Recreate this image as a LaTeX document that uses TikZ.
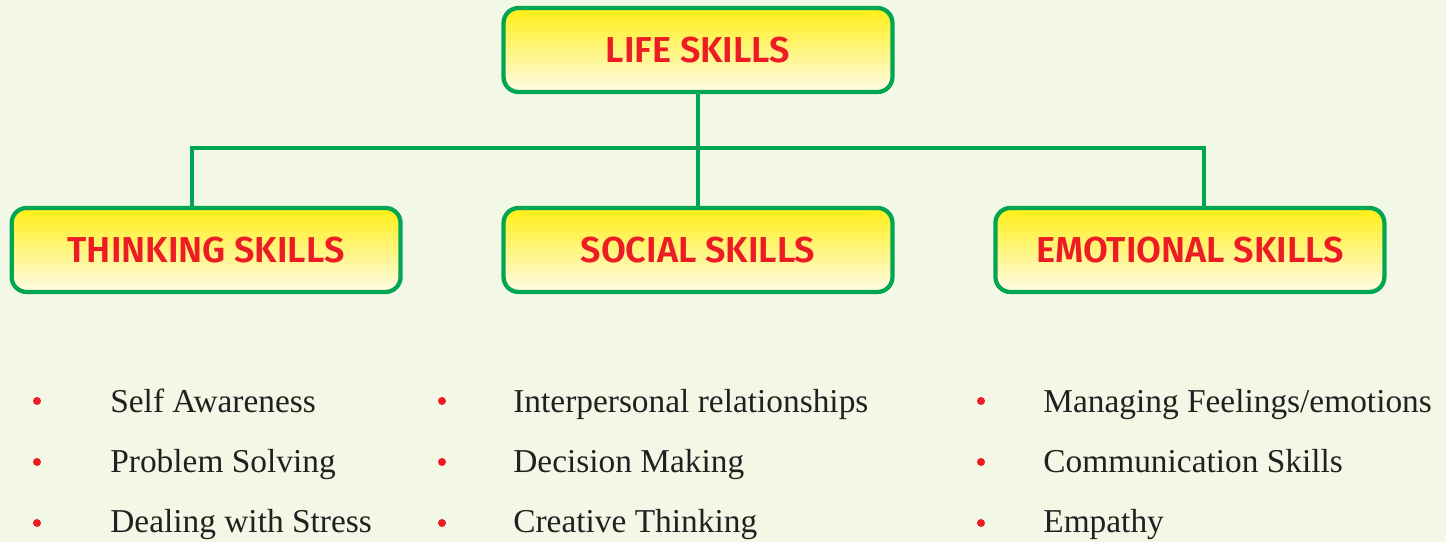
\documentclass[tikz,border=0pt]{standalone}
\usepackage{fontspec}
\setmainfont{Liberation Serif}
\newfontfamily\headfont{Fira Sans SemiBold}
\usetikzlibrary{trees}

\definecolor{linegreen}{RGB}{0,166,81}
\definecolor{headred}{RGB}{237,28,36}
\definecolor{boxyellow}{RGB}{255,238,20}
\definecolor{boxcream}{RGB}{255,252,234}
\definecolor{pagebg}{RGB}{243,247,230}
\definecolor{itemtext}{RGB}{35,31,32}

\begin{document}
\begin{tikzpicture}[x=0.02cm,y=-0.02cm,
    skillbox/.style={draw=linegreen,line width=0.085cm,rounded corners=0.3cm,
      top color=boxyellow,bottom color=boxcream,
      minimum width=7.78cm,minimum height=1.68cm,text=headred,
      font=\headfont\fontsize{20.5}{24}\selectfont},
    level distance=4cm,sibling distance=9.84cm,
    edge from parent/.style={draw=linegreen,line width=0.08cm},
    edge from parent path={(\tikzparentnode.south) -- ++(0,-1.08cm) -| (\tikzchildnode.north)},
    bulletdot/.style={circle,fill=headred,inner sep=0pt,minimum size=0.16cm},
    skillitem/.style={anchor=base west,inner sep=0pt,text=itemtext,
      font=\fontsize{19}{22}\selectfont}]
    \useasboundingbox[fill=pagebg] (0,0) rectangle (1446,542);

    \node[skillbox] (life) at (698,50) {LIFE SKILLS}
    child[edge from parent path={(\tikzparentnode.south) -- ++(0,-1.08cm) -| ([xshift=-0.28cm]\tikzchildnode.north)}]
      {node[skillbox] (thinking) {THINKING SKILLS}}
    child {node[skillbox] (social) {SOCIAL SKILLS}}
    child[edge from parent path={(\tikzparentnode.south) -- ++(0,-1.08cm) -| ([xshift=0.28cm]\tikzchildnode.north)}]
      {node[skillbox] (emotional) {EMOTIONAL SKILLS}};

    \foreach \bx/\grp in {37/t,442/s,981/e}
      \foreach \by/\row in {401/1,462/2,523/3}
        \node[bulletdot] (dot-\grp\row) at (\bx,\by) {};

    \node[skillitem] (t1) at (110,412) {Self Awareness};
    \node[skillitem] (t2) at (110,472) {Problem Solving};
    \node[skillitem] (t3) at (110,532) {Dealing with Stress};

    \node[skillitem] (s1) at (513,412) {Interpersonal relationships};
    \node[skillitem] (s2) at (513,472) {Decision Making};
    \node[skillitem] (s3) at (513,532) {Creative Thinking};

    \node[skillitem] (e1) at (1043,412) {Managing Feelings/emotions};
    \node[skillitem] (e2) at (1043,472) {Communication Skills};
    \node[skillitem] (e3) at (1043,532) {Empathy};
\end{tikzpicture}
\end{document}
